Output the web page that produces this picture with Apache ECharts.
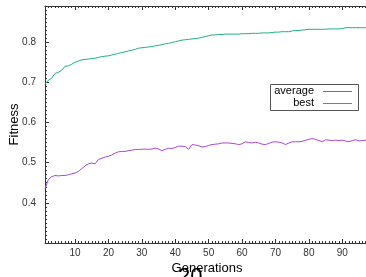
<!DOCTYPE html>
<html>
<head>
<meta charset="utf-8">
<script src="https://cdn.jsdelivr.net/npm/echarts@6/dist/echarts.min.js"></script>
<style>
  html, body { margin: 0; padding: 0; background: #fff; }
  #chart { width: 366px; height: 277px; }
</style>
</head>
<body>
<div id="chart"></div>
<script>
// generations 1..98
var generations = [];
for (var g = 1; g <= 98; g++) generations.push(g);

var average = [
  0.435, 0.458, 0.465, 0.468, 0.467, 0.468, 0.468, 0.470, 0.472, 0.474,
  0.478, 0.485, 0.492, 0.497, 0.499, 0.497, 0.508, 0.511, 0.514, 0.516,
  0.519, 0.524, 0.527, 0.528, 0.528, 0.530, 0.531, 0.533, 0.533, 0.533,
  0.534, 0.533, 0.534, 0.536, 0.534, 0.530, 0.533, 0.536, 0.535, 0.538,
  0.541, 0.541, 0.540, 0.533, 0.545, 0.544, 0.542, 0.539, 0.540, 0.543,
  0.545, 0.546, 0.547, 0.549, 0.549, 0.549, 0.548, 0.547, 0.545, 0.547,
  0.552, 0.550, 0.549, 0.551, 0.549, 0.546, 0.545, 0.548, 0.551, 0.552,
  0.551, 0.549, 0.545, 0.549, 0.552, 0.552, 0.552, 0.553, 0.556, 0.558,
  0.560, 0.558, 0.555, 0.552, 0.557, 0.556, 0.555, 0.556, 0.555, 0.556,
  0.554, 0.552, 0.555, 0.557, 0.554, 0.555, 0.556, 0.556
];

var best = [
  0.695, 0.705, 0.710, 0.722, 0.725, 0.730, 0.740, 0.741, 0.745, 0.750,
  0.753, 0.756, 0.757, 0.758, 0.759, 0.760, 0.762, 0.764, 0.765, 0.766,
  0.768, 0.770, 0.772, 0.774, 0.776, 0.778, 0.780, 0.782, 0.785, 0.786,
  0.787, 0.788, 0.789, 0.791, 0.792, 0.794, 0.796, 0.797, 0.799, 0.801,
  0.803, 0.805, 0.806, 0.807, 0.808, 0.809, 0.810, 0.812, 0.814, 0.816,
  0.818, 0.818, 0.819, 0.819, 0.820, 0.820, 0.820, 0.820, 0.820, 0.821,
  0.821, 0.821, 0.822, 0.822, 0.822, 0.823, 0.823, 0.823, 0.824, 0.825,
  0.825, 0.826, 0.826, 0.826, 0.828, 0.829, 0.829, 0.830, 0.831, 0.832,
  0.832, 0.832, 0.832, 0.832, 0.832, 0.833, 0.833, 0.833, 0.833, 0.834,
  0.836, 0.836, 0.836, 0.836, 0.836, 0.836, 0.836, 0.836
];

var xTicks = [10, 20, 30, 40, 50, 60, 70, 80, 90];
var yTicks = [0.4, 0.5, 0.6, 0.7, 0.8];

// minor tick positions
var xMinor = [];
for (var i = 2; i <= 98; i++) if (i % 10 !== 0) xMinor.push(i);
var yMinor = [];
for (var j = 31; j <= 89; j++) if (j % 10 !== 0) yMinor.push(j / 100);

var FONT = '"Liberation Sans", Arial, sans-serif';
var AXIS = '#333';
var AVG_COLOR = '#a347e0';
var BEST_COLOR = '#1fae88';

function pairs(ys) {
  return generations.map(function (x, k) { return [x, ys[k]]; });
}

function xAxisOf(pos, major, withLine) {
  return {
    type: 'value', position: pos, min: 1, max: 98,
    axisLine: { show: withLine, onZero: false, lineStyle: { color: AXIS, width: 1 } },
    axisTick: { show: true, inside: true, length: major ? 4 : 2,
      customValues: major ? xTicks : xMinor, lineStyle: { color: AXIS } },
    axisLabel: { show: pos === 'bottom' && major, customValues: xTicks,
      fontSize: 10, color: '#333', fontFamily: FONT, margin: 5 },
    splitLine: { show: false }
  };
}

function yAxisOf(major) {
  return {
    type: 'value', position: 'left', min: 0.3, max: 0.89,
    axisLine: { show: major, onZero: false, lineStyle: { color: AXIS, width: 1 } },
    axisTick: { show: true, inside: true, length: major ? 4 : 2,
      customValues: major ? yTicks : yMinor, lineStyle: { color: AXIS } },
    axisLabel: { show: major, customValues: yTicks, fontSize: 10, color: '#333',
      fontFamily: FONT, margin: 9, formatter: function (v) { return v.toFixed(1); } },
    splitLine: { show: false }
  };
}

var xBottom = xAxisOf('bottom', true, true);
xBottom.name = 'Generations';
xBottom.nameLocation = 'middle';
xBottom.nameGap = 19;
xBottom.nameMoveOverlap = false;
xBottom.nameTextStyle = { fontSize: 13, color: '#000', fontFamily: FONT };

var yLeft = yAxisOf(true);
yLeft.name = 'Fitness';
yLeft.nameLocation = 'middle';
yLeft.nameGap = 24;
yLeft.nameMoveOverlap = false;
yLeft.nameTextStyle = { fontSize: 13, color: '#000', fontFamily: FONT };

var chart = echarts.init(document.getElementById('chart'), null, { renderer: 'canvas' });
chart.setOption({
  animation: false,
  grid: { left: 45, right: -3, top: 6, bottom: 34, containLabel: false, outerBoundsMode: 'none' },
  xAxis: [xBottom, xAxisOf('bottom', false, false), xAxisOf('top', true, true), xAxisOf('top', false, false)],
  yAxis: [yLeft, yAxisOf(false)],
  series: [
    { name: 'average', type: 'line', showSymbol: false, symbol: 'none',
      data: pairs(average), lineStyle: { color: AVG_COLOR, width: 1 }, itemStyle: { color: AVG_COLOR } },
    { name: 'best', type: 'line', showSymbol: false, symbol: 'none',
      data: pairs(best), lineStyle: { color: BEST_COLOR, width: 1 }, itemStyle: { color: BEST_COLOR } }
  ],
  graphic: [
    { type: 'rect', shape: { x: 270.5, y: 84.5, width: 88, height: 26 },
      style: { fill: '#fff', stroke: '#555', lineWidth: 1 }, z: 10 },
    { type: 'text', x: 314, y: 90.5, z: 11,
      style: { text: 'average', fontSize: 11, fontFamily: FONT, fill: '#000', align: 'right', verticalAlign: 'middle' } },
    { type: 'line', shape: { x1: 323, y1: 91.5, x2: 352, y2: 91.5 }, z: 11,
      style: { stroke: AVG_COLOR, lineWidth: 1 } },
    { type: 'text', x: 314, y: 103, z: 11,
      style: { text: 'best', fontSize: 11, fontFamily: FONT, fill: '#000', align: 'right', verticalAlign: 'middle' } },
    { type: 'line', shape: { x1: 323, y1: 103.5, x2: 352, y2: 103.5 }, z: 11,
      style: { stroke: BEST_COLOR, lineWidth: 1 } },
    { type: 'text', x: 178, y: 266, z: 12,
      style: { text: '20', fontSize: 22, fontFamily: FONT, fill: '#000', align: 'left', verticalAlign: 'top' } }
  ]
});
</script>
</body>
</html>
